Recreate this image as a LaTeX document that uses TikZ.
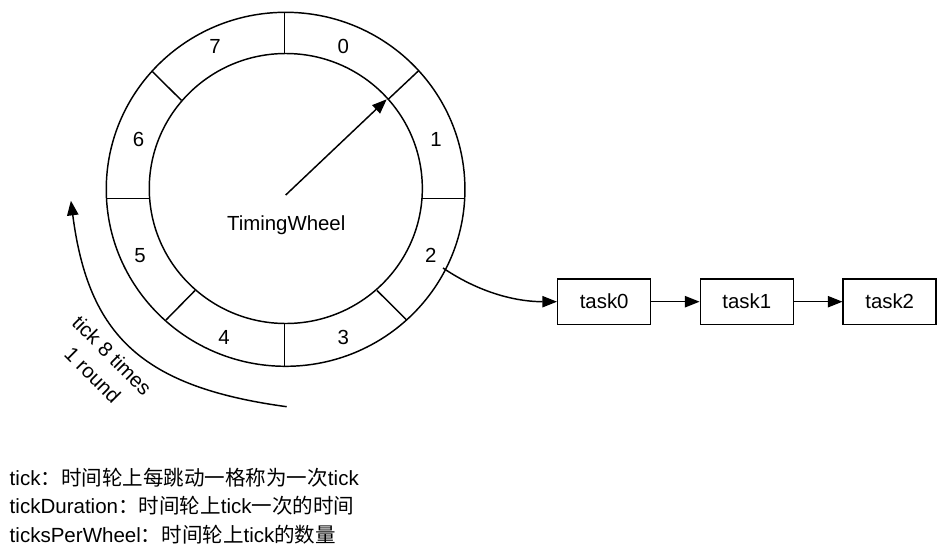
\documentclass[tikz,border=0pt]{standalone}
\usepackage{fontspec}
\setmainfont{Liberation Sans}
\newfontfamily\cjkfont{Noto Sans CJK SC}
\usetikzlibrary{arrows.meta}
\begin{document}
\begin{tikzpicture}[x=0.75pt,y=-0.75pt,line width=1.1pt,
  lab/.style={font=\fontsize{15.3}{18.4}\selectfont, inner sep=0pt},
  taskbox/.style={draw, minimum width=69.75pt, minimum height=34pt, inner sep=0pt, font=\fontsize{15.3}{18.4}\selectfont},
  arr/.style={-{Triangle[length=11pt,width=8.5pt]}},
  note/.style={font=\fontsize{15.4}{18.4}\selectfont, inner sep=0pt, anchor=base west}
]
\path[use as bounding box, fill=white] (0,0) rectangle (950,557);

% ring
\draw (285.6,189.3) ellipse [x radius=134.5pt, y radius=132.75pt];
\draw (285.8,188.5) ellipse [x radius=102.4pt, y radius=101.25pt];

% divider end points
\coordinate (dTo) at (284.3,12.7);  \coordinate (dTi) at (284.3,53.6);
\coordinate (dBo) at (284.3,366.1); \coordinate (dBi) at (284.3,323.4);
\coordinate (dLo) at (106.5,198.7); \coordinate (dLi) at (149.6,198.7);
\coordinate (dRo) at (464.7,198.7); \coordinate (dRi) at (422.0,198.7);
\coordinate (dULo) at (152.5,71.7); \coordinate (dULi) at (181.5,100.4);
\coordinate (dURo) at (418.3,71.0); \coordinate (dURi) at (388.3,99.2);
\coordinate (dLLo) at (166.0,320.0); \coordinate (dLLi) at (195.0,290.5);
\coordinate (dLRo) at (406.7,320.0); \coordinate (dLRi) at (377.0,290.5);
\draw (dTo) -- (dTi);
\draw (dBo) -- (dBi);
\draw (dLo) -- (dLi);
\draw (dRo) -- (dRi);
\draw (dULo) -- (dULi);
\draw (dURo) -- (dURi);
\draw (dLLo) -- (dLLi);
\draw (dLRo) -- (dLRi);

% slot numbers
\node[lab] (n7) at (215.0,46.3) {7};
\node[lab] (n0) at (343.3,46.3) {0};
\node[lab] (n6) at (138.5,139.0) {6};
\node[lab] (n1) at (436.0,139.0) {1};
\node[lab] (n5) at (140.0,255.3) {5};
\node[lab] (n2) at (430.7,255.3) {2};
\node[lab] (n4) at (224.0,337.5) {4};
\node[lab] (n3) at (343.3,337.5) {3};

\node[lab, anchor=base] (tw) at (286.2,230.7) {TimingWheel};

% pointer
\coordinate (hub) at (285.7,195.0);
\coordinate (ptr) at (386.7,99.3);
\draw[arr] (hub) -- (ptr);

% tasks
\node[taskbox] (t0) at (604.2,301.7) {task0};
\node[taskbox] (t1) at (746.8,301.7) {task1};
\node[taskbox] (t2) at (889.7,301.7) {task2};
\coordinate (slot2) at (443.0,268.0);
\draw[arr] (slot2) .. controls (483,295) and (520,301.7) .. (t0.west);
\draw[arr] (t0) -- (t1);
\draw[arr] (t1) -- (t2);

% tick arc
\coordinate (arcS) at (286.7,406.7);
\coordinate (arcE) at (70.9,200.7);
\draw[arr] (arcS) .. controls (142,387) and (88.4,335.8) .. (arcE);
\node[lab, rotate=-45, align=center, font=\fontsize{15.3}{20.5}\selectfont] (tl) at (102.5,365) {tick 8 times\\1 round};

% notes
\node[note] (l1) at (9,485.0) {tick{\cjkfont ：时间轮上每跳动一格称为一次}tick};
\node[note] (l2) at (9,513.4) {tickDuration{\cjkfont ：时间轮上}tick{\cjkfont 一次的时间}};
\node[note] (l3) at (9,542.3) {ticksPerWheel{\cjkfont ：时间轮上}tick{\cjkfont 的数量}};
\end{tikzpicture}
\end{document}
